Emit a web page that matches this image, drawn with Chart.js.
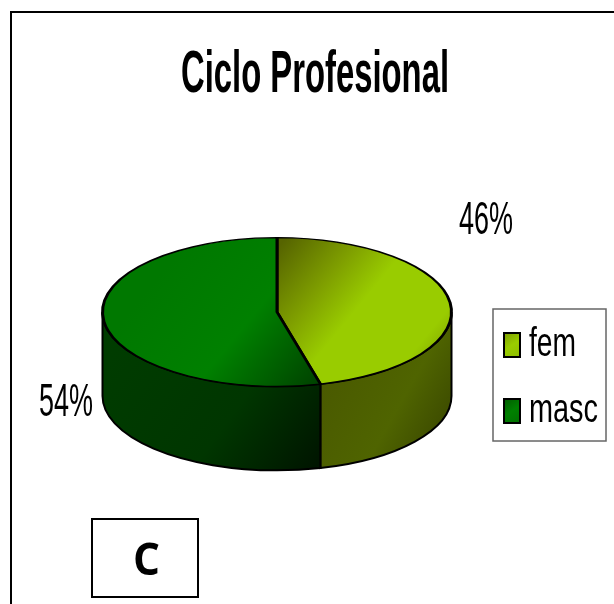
<!DOCTYPE html>
<html>
<head>
<meta charset="utf-8">
<title>Ciclo Profesional</title>
<script src="https://cdn.jsdelivr.net/npm/chart.js@4"></script>
<style>
    html, body { margin: 0; padding: 0; background: #fff; }
    canvas { display: block; }
</style>
</head>
<body>
<canvas id="chart" width="614" height="604"></canvas>
<script>
const titleText = 'Ciclo Profesional';
const categories = ['fem', 'masc'];
const seriesValues = [46, 54];
const cornerLabel = 'C';

const ctx = document.getElementById('chart').getContext('2d');

// the pie is a flat circle for Chart.js, we squash it to an ellipse when drawing
const squash = 75 / 176;
const depth = 84;
const pieCy = 312;

function gradient(x0, y0, x1, y1, stops) {
    const g = ctx.createLinearGradient(x0, y0, x1, y1);
    stops.forEach(s => g.addColorStop(s[0], s[1]));
    return g;
}

// same as gradient() but the ends are screen coords on the squashed top face
function topGradient(x0, y0, x1, y1, stops) {
    const dx = x1 - x0;
    const dy = y1 - y0;
    const len2 = dx * dx + dy * dy;
    const gx = dx / len2;
    const gy = squash * dy / len2;
    const g2 = gx * gx + gy * gy;
    const startY = pieCy + (y0 - pieCy) / squash;
    return gradient(x0, startY, x0 + gx / g2, startY + gy / g2, stops);
}

const topColors = [
    topGradient(284, 240, 445, 372, [[0, '#566400'], [0.28, '#7f9f00'], [0.48, '#99cc00'], [0.82, '#99cc00'], [1, '#7b9c00']]),
    topGradient(170, 262, 322, 386, [[0, '#007800'], [0.5, '#008000'], [0.78, '#005c00'], [1, '#003f00']])
];
const wallColors = [
    gradient(318, 395, 450, 470, [[0, '#4a5a00'], [0.5, '#4f6400'], [1, '#343f00']]),
    gradient(110, 320, 318, 472, [[0, '#003d00'], [0.6, '#003600'], [1, '#001400']])
];
const swatchColors = [
    gradient(504, 333, 520, 357, [[0, '#7f9f00'], [0.5, '#99cc00'], [1, '#8fbf00']]),
    gradient(504, 399, 520, 423, [[0, '#005c00'], [0.5, '#008000'], [1, '#007000']])
];

// condensed text, the original labels are squeezed horizontally
function drawText(c, text, x, y, font, width) {
    c.font = font;
    c.fillStyle = '#000';
    c.textAlign = 'left';
    c.textBaseline = 'alphabetic';
    c.fillText(text, x, y, width);
}

const pie3d = {
    id: 'pie3d',
    beforeDraw(chart) {
        const c = chart.ctx;
        c.save();
        c.fillStyle = '#fff';
        c.fillRect(0, 0, 614, 604);
        // outer frame
        c.strokeStyle = '#000';
        c.lineWidth = 2;
        c.beginPath();
        c.moveTo(11, 604);
        c.lineTo(11, 12);
        c.lineTo(614, 12);
        c.stroke();
        c.restore();
    },
    beforeDatasetsDraw(chart) {
        const c = chart.ctx;
        const arcs = chart.getDatasetMeta(0).data;
        c.save();
        c.lineWidth = 2;
        c.strokeStyle = '#000';
        arcs.forEach((arc, i) => {
            const rx = arc.outerRadius;
            const ry = rx * squash;
            const a0 = Math.max(arc.startAngle, 0);
            const a1 = Math.min(arc.endAngle, Math.PI);
            if (a1 <= a0) return;
            c.beginPath();
            c.ellipse(arc.x, arc.y, rx, ry, 0, a0, a1);
            c.ellipse(arc.x, arc.y + depth, rx, ry, 0, a1, a0, true);
            c.closePath();
            c.fillStyle = wallColors[i];
            c.fill();
            c.stroke();
        });
        c.restore();
        // top face
        c.save();
        c.translate(0, pieCy);
        c.scale(1, squash);
        c.translate(0, -pieCy);
    },
    afterDatasetsDraw(chart) {
        const c = chart.ctx;
        c.restore();
        c.save();

        drawText(c, titleText, 181, 92, 'bold 60px "Liberation Sans"', 268);

        // percent labels
        drawText(c, seriesValues[0] + '%', 459, 234, '46px "Liberation Sans"', 54);
        drawText(c, seriesValues[1] + '%', 39, 416, '46px "Liberation Sans"', 54);

        // legend
        c.strokeStyle = '#666';
        c.lineWidth = 1.5;
        c.strokeRect(493, 309, 113, 132);
        const swatchY = [333, 399];
        const legendBase = [356, 422];
        const legendW = [47, 69];
        categories.forEach((name, i) => {
            c.fillStyle = swatchColors[i];
            c.fillRect(504, swatchY[i], 16, 24);
            c.strokeStyle = '#000';
            c.lineWidth = 2;
            c.strokeRect(504, swatchY[i], 16, 24);
            drawText(c, name, 529, legendBase[i], '40px "Liberation Sans"', legendW[i]);
        });

        // corner box
        c.strokeStyle = '#000';
        c.lineWidth = 2;
        c.strokeRect(92, 519, 106, 78);
        drawText(c, cornerLabel, 133, 575, 'bold 45px "Open Sans"', 27);
        c.restore();
    }
};

const chart = new Chart(ctx, {
    type: 'pie',
    data: {
        labels: categories,
        datasets: [{
            data: seriesValues,
            backgroundColor: topColors,
            borderColor: '#000',
            borderWidth: 3
        }]
    },
    options: {
        responsive: false,
        animation: false,
        layout: { padding: { left: 101, right: 161, top: 136, bottom: 116 } },
        plugins: {
            legend: { display: false },
            tooltip: { enabled: false }
        }
    },
    plugins: [pie3d]
});
</script>
</body>
</html>
